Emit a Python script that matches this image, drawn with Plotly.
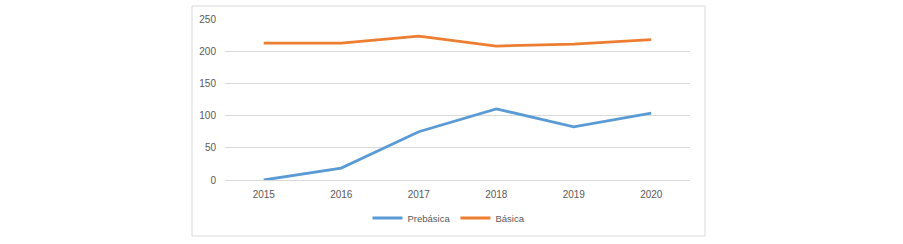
import plotly.graph_objects as go

years = ["2015", "2016", "2017", "2018", "2019", "2020"]
prebasica = [0, 18.5, 75, 110.5, 82.5, 104]
basica = [212.5, 212.5, 223.5, 208, 211, 218]

W, H = 903, 244
ml, mr, mt, mb = 225, 213, 19, 64
pw = W - ml - mr
ph = H - mt - mb

fig = go.Figure()
fig.add_trace(go.Scatter(x=years, y=prebasica, name="Prebásica", mode="lines",
                         line=dict(color="#5B9BD5", width=2.8)))
fig.add_trace(go.Scatter(x=years, y=basica, name="Básica", mode="lines",
                         line=dict(color="#ED7D31", width=2.8)))

font = dict(family="Liberation Sans, Arial, sans-serif", size=10, color="#595959")
legfont = dict(family="Liberation Sans, Arial, sans-serif", size=9.5, color="#595959")

fig.update_layout(
    width=W, height=H,
    margin=dict(l=ml, r=mr, t=mt, b=mb, autoexpand=False),
    paper_bgcolor="white", plot_bgcolor="white",
    font=font,
    showlegend=True,
    legend=dict(orientation="h", x=(449 - ml) / pw, xanchor="center", xref="paper",
                y=1 - 218 / H, yanchor="middle", yref="container",
                font=legfont, itemwidth=30, bgcolor="rgba(0,0,0,0)"),
    xaxis=dict(type="category", range=[-0.5, 5.5], showgrid=False, zeroline=False,
               showline=False, ticks="", tickfont=font, ticklabelstandoff=7),
    yaxis=dict(range=[0, 250], dtick=50, showgrid=True, gridcolor="#D9D9D9", gridwidth=1,
               zeroline=True, zerolinecolor="#D9D9D9", zerolinewidth=1,
               showline=False, ticks="", tickfont=font, ticklabelstandoff=8),
    shapes=[dict(type="rect", xref="paper", yref="paper",
                 x0=(192 - ml) / pw, x1=(705 - ml) / pw,
                 y0=1 - (236 - mt) / ph, y1=1 - (6 - mt) / ph,
                 line=dict(color="#D9D9D9", width=1), fillcolor="rgba(0,0,0,0)", layer="below")],
)

fig.write_html("out.html", config={"displayModeBar": False},
               post_script="document.body.style.margin='0px';")
